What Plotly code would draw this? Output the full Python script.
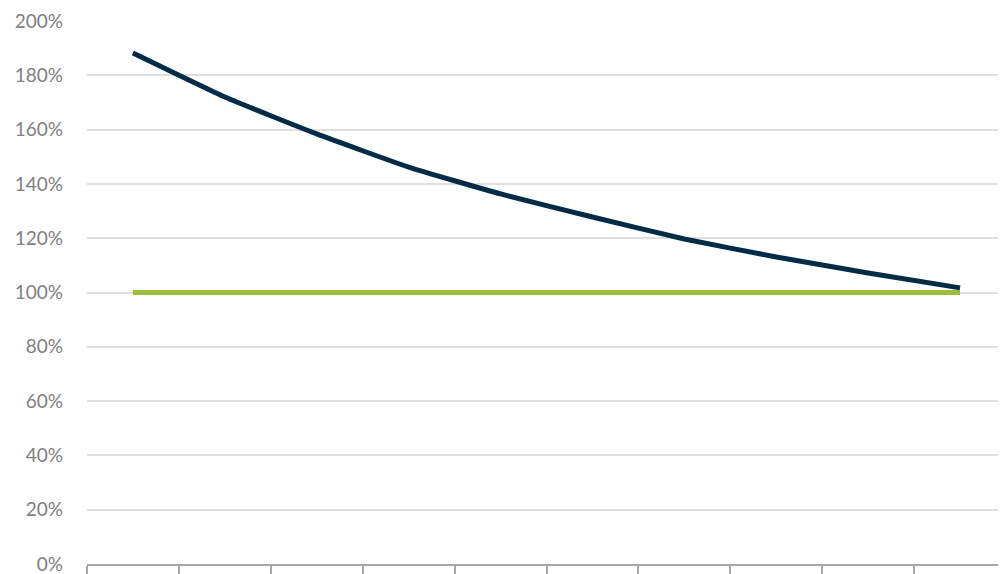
import plotly.graph_objects as go

categories = ["1", "2", "3", "4", "5", "6", "7", "8", "9", "10"]
series_dark = [1.882, 1.720, 1.584, 1.462, 1.363, 1.278, 1.197, 1.131, 1.072, 1.017]
series_green = [1.0, 1.0, 1.0, 1.0, 1.0, 1.0, 1.0, 1.0, 1.0, 1.0]
y_ticks = [0, 0.2, 0.4, 0.6, 0.8, 1.0, 1.2, 1.4, 1.6, 1.8, 2.0]
y_tick_labels = ["0%", "20%", "40%", "60%", "80%", "100%", "120%", "140%", "160%", "180%", "200%"]

fig = go.Figure()
fig.add_trace(go.Scatter(x=categories, y=series_green, mode="lines",
                         line=dict(color="#9DBE3A", width=5, shape="spline", smoothing=0.4),
                         hoverinfo="skip"))
fig.add_trace(go.Scatter(x=categories, y=series_dark, mode="lines",
                         line=dict(color="#022B45", width=5, shape="spline", smoothing=0.4),
                         hoverinfo="skip"))

fig.update_layout(
    width=998, height=566,
    margin=dict(l=79, r=0, t=13, b=10),
    paper_bgcolor="white", plot_bgcolor="white",
    showlegend=False,
    font=dict(family="Lato, 'Open Sans', sans-serif", size=19, color="#808080"),
)
fig.update_xaxes(
    type="category", range=[-0.5, 9.5],
    tickson="boundaries", ticks="outside", ticklen=12, tickcolor="#A6A6A6", tickwidth=1.5,
    showline=True, linecolor="#A6A6A6", linewidth=1.5,
    showgrid=False, showticklabels=False, automargin=False, zeroline=False,
)
fig.update_yaxes(
    range=[0, 2.0], tickvals=y_ticks, ticktext=y_tick_labels,
    showgrid=True, gridcolor="#E0E0E0", gridwidth=1.5,
    zeroline=False, showline=False, ticks="", ticklabelstandoff=23,
    ticklabeloverflow="allow",
    tickfont=dict(size=19, color="#808080"), automargin=False,
)
fig.write_html("out.html")
